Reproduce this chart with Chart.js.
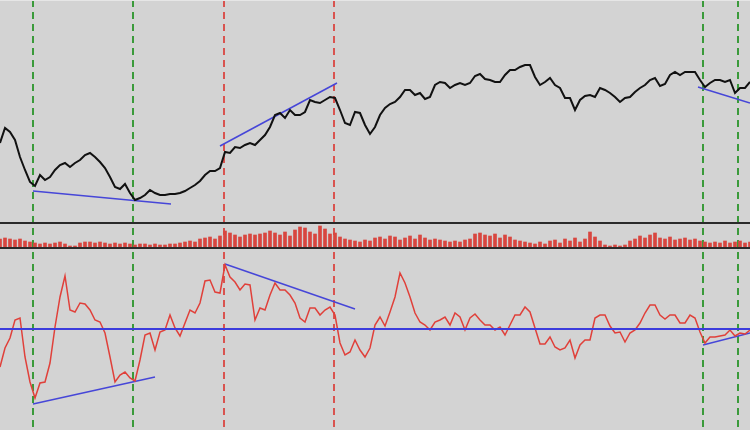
<!DOCTYPE html>
<html>
<head>
<meta charset="utf-8">
<script src="https://cdn.jsdelivr.net/npm/chart.js@4.4.0/dist/chart.umd.min.js"></script>
<style>
    html, body { margin: 0; padding: 0; background: #d3d3d3; }
    #wrap { position: relative; width: 750px; height: 430px; overflow: hidden; background: #d3d3d3; }
    .panel { position: absolute; left: 0; width: 750px; }
    .sep { position: absolute; left: 0; width: 750px; height: 2px; background: #2a2a2a; }
    .topline { position: absolute; left: 0; top: 0; width: 750px; height: 1px; background: #e6e6e6; }
</style>
</head>
<body>
<div id="wrap">
    <div class="panel" style="top:0;height:222px"><canvas id="priceChart" width="750" height="222"></canvas></div>
    <div class="sep" style="top:222px"></div>
    <div class="panel" style="top:224px;height:23px"><canvas id="volChart" width="750" height="23"></canvas></div>
    <div class="sep" style="top:247px"></div>
    <div class="panel" style="top:249px;height:181px"><canvas id="oscChart" width="750" height="181"></canvas></div>
    <div class="topline"></div>
</div>
<script>
// one value per bar, 151 bars
var price = [79, 94, 90, 82, 65, 52, 40, 36, 47, 42, 45, 52, 57, 59, 55, 59, 62, 67, 69, 65,
    60, 54, 45, 35, 33, 38, 29, 22, 24, 27, 32, 29, 27, 27, 28, 28, 29, 31, 34, 37,
    41, 47, 51, 51, 54, 70, 69, 75, 74, 77, 79, 77, 82, 87, 95, 107, 109, 104, 112, 107,
    107, 110, 122, 120, 119, 122, 125, 124, 112, 99, 97, 110, 109, 97, 88, 95, 107, 114, 118, 120,
    125, 132, 132, 127, 129, 123, 125, 137, 140, 139, 134, 137, 139, 137, 139, 146, 148, 143, 142, 140,
    140, 147, 152, 152, 155, 157, 157, 145, 137, 140, 144, 137, 134, 124, 124, 112, 122, 126, 127, 125,
    134, 132, 129, 125, 120, 124, 125, 130, 134, 137, 142, 144, 136, 138, 147, 150, 147, 150, 150, 150,
    142, 135, 139, 142, 142, 140, 142, 129, 134, 134, 140];

var volume = [8, 9, 8, 7, 8, 6, 5, 4, 3, 4, 3, 4, 5, 3, 1, 1, 4, 5, 5, 4,
    5, 4, 3, 4, 3, 4, 3, 2, 3, 3, 2, 3, 2, 2, 3, 3, 4, 5, 6, 5,
    8, 9, 10, 8, 11, 16, 14, 12, 10, 12, 13, 12, 13, 14, 16, 14, 12, 15, 11, 17,
    20, 19, 15, 13, 21, 18, 13, 14, 10, 8, 7, 6, 5, 7, 6, 9, 10, 8, 11, 10,
    7, 9, 11, 8, 12, 9, 7, 8, 7, 6, 5, 6, 5, 7, 8, 13, 14, 12, 11, 13,
    9, 12, 10, 7, 6, 5, 4, 3, 5, 3, 6, 7, 4, 8, 6, 9, 5, 8, 15, 10,
    6, 2, 1, 2, 1, 2, 6, 8, 11, 9, 12, 14, 9, 8, 10, 7, 8, 9, 7, 8,
    6, 5, 4, 5, 4, 6, 4, 5, 6, 4, 5];

var osc = [-38, -19, -9, 9, 11, -28, -53, -69, -54, -53, -34, 2, 32, 53, 19, 17, 26, 25, 19, 9,
    7, -4, -28, -53, -46, -43, -49, -52, -31, -6, -4, -21, -3, -1, 14, 1, -7, 6, 19, 16,
    26, 48, 49, 37, 36, 64, 52, 47, 39, 45, 44, 9, 21, 19, 34, 46, 39, 39, 34, 26,
    11, 7, 21, 21, 14, 19, 22, 14, -14, -26, -23, -11, -21, -28, -19, 4, 12, 3, 17, 32,
    56, 46, 32, 16, 7, 4, -1, 7, 9, 12, 4, 16, 12, -1, 11, 15, 9, 4, 4, -1,
    2, -6, 4, 14, 14, 22, 17, 1, -15, -15, -8, -18, -21, -19, -11, -29, -16, -11, -11, 11,
    14, 14, 3, -4, -3, -13, -4, -1, 6, 16, 24, 24, 14, 10, 14, 14, 6, 6, 14, 11,
    -3, -14, -8, -8, -7, -6, -1, -7, -4, -5, -1];

var oscLevel = 0;

// signal bars (vertical dashed lines)
var markerBars = [6.6, 26.6, 44.8, 66.8, 140.6, 147.6];
var markerColors = ['#3a9a3a', '#3a9a3a', '#d9534f', '#d9534f', '#3a9a3a', '#3a9a3a'];

// trend lines: [bar1, value1, bar2, value2]
var priceTrends = [[6.6, 31, 34.2, 18], [44, 76, 67.4, 139], [139.6, 135, 150, 119]];
var oscTrends = [[6.6, -75, 31, -48], [45, 65, 71, 20], [140.6, -16, 150, -4]];

function xy(arr) {
    var out = [];
    for (var i = 0; i < arr.length; i++) out.push({x: i, y: arr[i]});
    return out;
}

function trendSets(list) {
    return list.map(function (t) {
        return {
            type: 'line',
            data: [{x: t[0], y: t[1]}, {x: t[2], y: t[3]}],
            borderColor: '#4646d8',
            borderWidth: 1.5,
            pointRadius: 0
        };
    });
}

function markers(top) {
    return {
        id: 'markers',
        beforeDatasetsDraw: function (chart) {
            var ctx = chart.ctx, xs = chart.scales.x;
            ctx.save();
            ctx.lineWidth = 2;
            ctx.setLineDash([7, 5]);
            ctx.lineDashOffset = top;
            for (var i = 0; i < markerBars.length; i++) {
                var px = Math.round(xs.getPixelForValue(markerBars[i]));
                ctx.strokeStyle = markerColors[i];
                ctx.beginPath();
                ctx.moveTo(px, 0);
                ctx.lineTo(px, chart.height);
                ctx.stroke();
            }
            ctx.restore();
        }
    };
}

function baseOptions(ymin, ymax) {
    return {
        responsive: false,
        animation: false,
        devicePixelRatio: 1,
        layout: {padding: 0},
        plugins: {legend: {display: false}, tooltip: {enabled: false}},
        scales: {
            x: {type: 'linear', min: 0, max: price.length - 1, offset: false, display: false},
            y: {min: ymin, max: ymax, display: false}
        }
    };
}

new Chart(document.getElementById('priceChart'), {
    type: 'line',
    data: {
        datasets: [{
            data: xy(price),
            borderColor: '#111',
            borderWidth: 2,
            pointRadius: 0,
            tension: 0
        }].concat(trendSets(priceTrends))
    },
    options: baseOptions(0, 222),
    plugins: [markers(0)]
});

new Chart(document.getElementById('volChart'), {
    type: 'bar',
    data: {
        datasets: [{
            data: xy(volume),
            backgroundColor: '#d8463f',
            barThickness: 3
        }]
    },
    options: baseOptions(0, 23),
    plugins: [markers(224)]
});

new Chart(document.getElementById('oscChart'), {
    type: 'line',
    data: {
        datasets: [{
            data: [{x: 0, y: oscLevel}, {x: osc.length - 1, y: oscLevel}],
            borderColor: '#3c3cdc',
            borderWidth: 2,
            pointRadius: 0
        }, {
            data: xy(osc),
            borderColor: '#e0403a',
            borderWidth: 1.5,
            pointRadius: 0,
            tension: 0
        }].concat(trendSets(oscTrends))
    },
    options: baseOptions(-101, 80),
    plugins: [markers(249)]
});
</script>
</body>
</html>
